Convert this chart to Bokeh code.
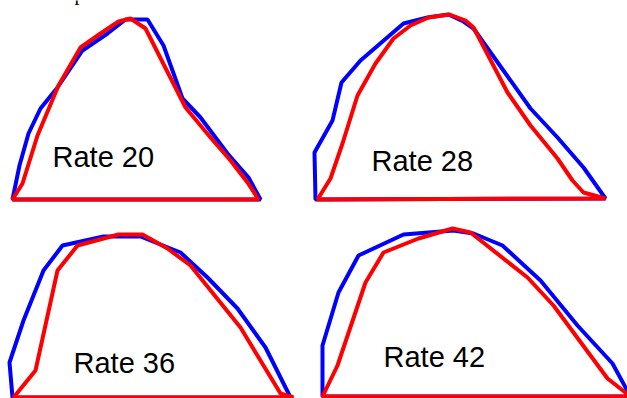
from bokeh.plotting import figure
from bokeh.models import Range1d
from bokeh.core.properties import value
from bokeh.embed import file_html
from bokeh.resources import INLINE

# Labels of the four panels and their anchor positions (reference pixel units)
labels = ["Rate 20", "Rate 28", "Rate 36", "Rate 42"]
label_x = [52, 371, 73, 383]
label_y = [156, 160, 362, 356]

# Cut-off title fragment at the top edge
title_text = ["p"]
title_x = [74]
title_y = [-8]

# Panel "Rate 20"
blue_x_20 = [12, 19, 28, 40, 57, 82, 107, 125, 147, 163, 182, 200, 227, 248, 260]
blue_y_20 = [199, 165, 133, 108, 87, 50, 33, 19, 19, 45, 98, 117, 153, 177, 199]
red_x_20 = [12, 22, 37, 58, 80, 100, 118, 130, 145, 185, 210, 230, 247, 258]
red_y_20 = [199, 183, 135, 85, 47, 33, 21, 18, 28, 107, 137, 160, 182, 199]

# Panel "Rate 28"
blue_x_28 = [315, 314, 332, 341, 360, 403, 427, 448, 463, 473, 530, 557, 583, 605]
blue_y_28 = [199, 152, 120, 82, 60, 23, 17, 14, 21, 28, 108, 137, 167, 198]
red_x_28 = [317, 330, 342, 357, 375, 393, 410, 428, 449, 465, 473, 507, 530, 557, 572, 583, 605]
red_y_28 = [199, 178, 143, 95, 63, 38, 25, 17, 14, 20, 27, 92, 125, 158, 180, 192, 198]

# Panel "Rate 36"
blue_x_36 = [12, 9, 23, 43, 62, 103, 140, 180, 207, 237, 265, 290]
blue_y_36 = [397, 362, 320, 270, 245, 236, 236, 252, 277, 308, 347, 397]
red_x_36 = [13, 35, 57, 77, 118, 142, 167, 190, 240, 280, 293]
red_y_36 = [397, 370, 270, 245, 234, 234, 248, 265, 327, 393, 397]

# Panel "Rate 42"
blue_x_42 = [322, 322, 338, 358, 403, 453, 473, 502, 540, 577, 612, 630]
blue_y_42 = [396, 345, 292, 255, 234, 230, 233, 245, 280, 325, 363, 396]
red_x_42 = [322, 337, 365, 383, 418, 452, 470, 527, 553, 607, 630]
red_y_42 = [396, 365, 282, 252, 238, 228, 232, 277, 305, 378, 396]

blue_shapes = [(blue_x_20, blue_y_20), (blue_x_28, blue_y_28),
               (blue_x_36, blue_y_36), (blue_x_42, blue_y_42)]
red_shapes = [(red_x_20, red_y_20), (red_x_28, red_y_28),
              (red_x_36, red_y_36), (red_x_42, red_y_42)]

p = figure(width=627, height=398, output_backend="svg", toolbar_location=None,
           x_range=Range1d(0, 627), y_range=Range1d(398, 0),
           min_border=0, min_border_left=0, min_border_right=0,
           min_border_top=0, min_border_bottom=0)
p.axis.visible = False
p.grid.visible = False
p.outline_line_color = None
p.background_fill_color = "white"
p.border_fill_color = "white"

for xs, ys in blue_shapes:
    p.patch(xs, ys, fill_color=None, line_color="#0000FF", line_width=4)
for xs, ys in red_shapes:
    p.patch(xs, ys, fill_color=None, line_color="#FF0000", line_width=4)

p.text(x=label_x, y=label_y, text=labels, text_font=value("Liberation Sans"),
       text_font_size="29px", text_color="black",
       text_align="left", text_baseline="alphabetic")

p.text(x=title_x, y=title_y, text=title_text, text_font=value("Liberation Serif"),
       text_font_size="20px", text_color="black",
       text_align="left", text_baseline="alphabetic")

open("out.html", "w").write(file_html(p, INLINE))
